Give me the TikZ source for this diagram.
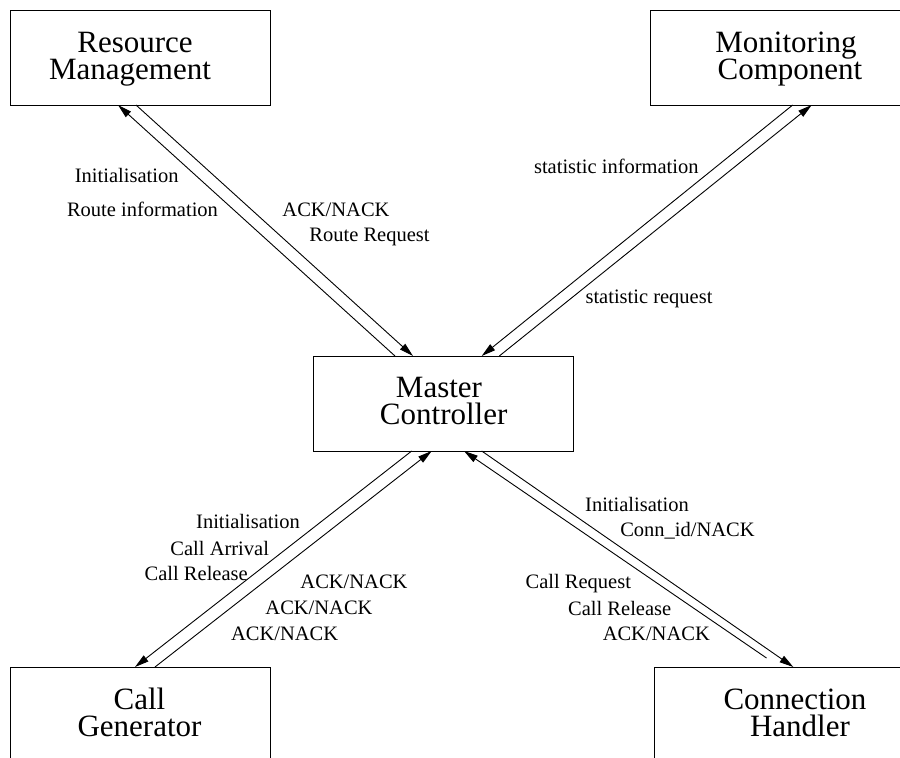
\documentclass[tikz,border=0pt]{standalone}
\usepackage{fontspec}
\setmainfont{Liberation Serif}
\newfontfamily\labelface{Liberation Serif}
\newcommand\titlefont{\labelface\fontsize{31}{27}\selectfont\lineskiplimit=-100pt\relax}
\newcommand\msgfont{\labelface\fontsize{20.5}{20.5}\selectfont}
\usetikzlibrary{arrows.meta}
\begin{document}
\begin{tikzpicture}[x=1pt,y=-1pt,
  box/.style={draw, line width=1pt, inner sep=0pt, outer sep=0pt, rectangle},
  title/.style={anchor=base, inner sep=0pt, align=center, font=\titlefont},
  msg/.style={anchor=base, inner sep=0pt, font=\msgfont},
  flow/.style={line width=0.9pt, -{Triangle[length=14pt,width=7.5pt]}}]
\useasboundingbox (0,0) rectangle (900,758);
\clip (0,0) rectangle (900,758);

% component boxes
\node[box, minimum width=260pt, minimum height=95pt]  (rm)  at (140,57.5)  {};
\node[box, minimum width=300pt, minimum height=95pt]  (mon) at (800,57.5)  {};
\node[box, minimum width=260pt, minimum height=95pt]  (mc)  at (443,403.5) {};
\node[box, minimum width=260pt, minimum height=133pt] (cg)  at (140,733.5) {};
\node[box, minimum width=300pt, minimum height=133pt] (ch)  at (804,733.5) {};

% box titles (anchored on the baseline of the second line)
\node[title] (rmt) at (135,79)    {Resource\\Management\hspace*{10pt}};
\node[title] (mot) at (790,79)    {Monitoring\hspace*{8pt}\\Component};
\node[title] (mct) at (443.7,424) {Master\hspace*{9.4pt}\\Controller};
\node[title] (cgt) at (139.5,736) {Call\\Generator};
\node[title] (cht) at (800,736)   {Connection\hspace*{10pt}\\Handler};

% message flows
\draw[flow] ([xshift=82pt]mc.north west) -- ([xshift=108pt]rm.south west);
\draw[flow] ([xshift=126pt]rm.south west) -- ([xshift=100pt]mc.north west);
\draw[flow] ([xshift=142.7pt]mon.south west) -- ([xshift=168.7pt]mc.north west);
\draw[flow] ([xshift=186.3pt]mc.north west) -- ([xshift=161.7pt]mon.south west);
\draw[flow] ([xshift=98.7pt]mc.south west) -- ([xshift=125pt]cg.north west);
\draw[flow] ([xshift=145pt]cg.north west) -- ([xshift=118.7pt]mc.south west);
\draw[flow] ([xshift=168.7pt]mc.south west) -- ([xshift=139.3pt]ch.north west);
\coordinate (chfree) at (766.5,658);
\draw[flow] (chfree) -- ([xshift=151pt]mc.south west);

% message labels
\node[msg] (l1)  at (126.7,182.7) {Initialisation};
\node[msg] (l2)  at (142.5,216.7) {Route information};
\node[msg] (l3)  at (336,216.7)   {ACK/NACK};
\node[msg] (l4)  at (369.5,241.7) {Route Request};
\node[msg] (l5)  at (616.3,173.3) {statistic information};
\node[msg] (l6)  at (649,303.3)   {statistic request};
\node[msg] (l7)  at (248,528.3)   {Initialisation};
\node[msg] (l8)  at (219.7,555)   {Call Arrival};
\node[msg] (l9)  at (196.2,580.7) {Call Release};
\node[msg] (l10) at (354,588.3)   {ACK/NACK};
\node[msg] (l11) at (319,614.3)   {ACK/NACK};
\node[msg] (l12) at (284.7,640)   {ACK/NACK};
\node[msg] (l13) at (637,511.7)   {Initialisation};
\node[msg] (l14) at (687.5,536.7) {Conn\_id/NACK};
\node[msg] (l15) at (578.3,588.3) {Call Request};
\node[msg] (l16) at (619.7,615)   {Call Release};
\node[msg] (l17) at (656.3,640)   {ACK/NACK};
\end{tikzpicture}
\end{document}
